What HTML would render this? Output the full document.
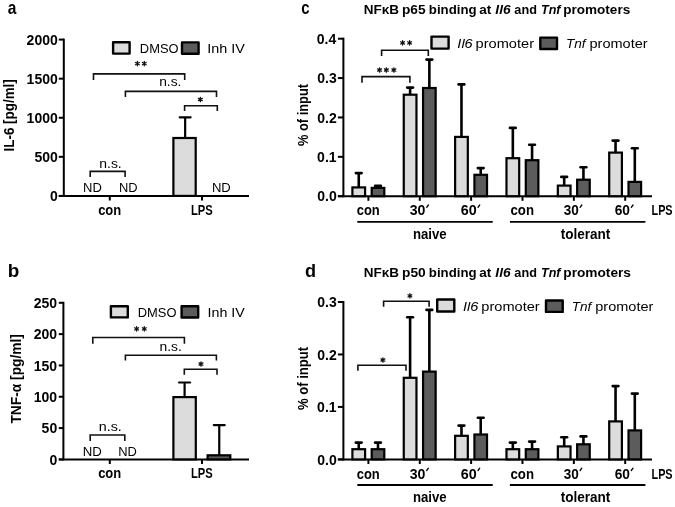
<!DOCTYPE html>
<html><head><meta charset="utf-8"><style>
html,body{margin:0;padding:0;background:#fff;}
svg{display:block;will-change:transform;}
text{font-family:"Liberation Sans", sans-serif;}
</style></head><body>
<svg width="675" height="507" viewBox="0 0 675 507">
<rect width="675" height="507" fill="#fff"/>
<text x="7.68" y="14.20" font-size="18.5" font-weight="bold" textLength="8.63" lengthAdjust="spacingAndGlyphs">a</text>
<line x1="63.80" y1="38.60" x2="63.80" y2="196.90" stroke="#000" stroke-width="2" stroke-linecap="butt"/>
<line x1="58.80" y1="195.90" x2="63.80" y2="195.90" stroke="#000" stroke-width="2" stroke-linecap="butt"/>
<text x="50.00" y="201.10" font-size="14.0" font-weight="bold">0</text>
<line x1="58.80" y1="156.82" x2="63.80" y2="156.82" stroke="#000" stroke-width="2" stroke-linecap="butt"/>
<text x="34.40" y="162.02" font-size="14.0" font-weight="bold">500</text>
<line x1="58.80" y1="117.75" x2="63.80" y2="117.75" stroke="#000" stroke-width="2" stroke-linecap="butt"/>
<text x="26.60" y="122.95" font-size="14.0" font-weight="bold">1000</text>
<line x1="58.80" y1="78.67" x2="63.80" y2="78.67" stroke="#000" stroke-width="2" stroke-linecap="butt"/>
<text x="26.60" y="83.88" font-size="14.0" font-weight="bold">1500</text>
<line x1="58.80" y1="39.60" x2="63.80" y2="39.60" stroke="#000" stroke-width="2" stroke-linecap="butt"/>
<text x="26.60" y="44.80" font-size="14.0" font-weight="bold">2000</text>
<line x1="58.80" y1="195.90" x2="249.00" y2="195.90" stroke="#000" stroke-width="2" stroke-linecap="butt"/>
<line x1="109.80" y1="195.90" x2="109.80" y2="200.50" stroke="#000" stroke-width="2" stroke-linecap="butt"/>
<line x1="202.00" y1="195.90" x2="202.00" y2="200.50" stroke="#000" stroke-width="2" stroke-linecap="butt"/>
<text x="98.14" y="214.80" font-size="14.0" font-weight="bold" textLength="23.08" lengthAdjust="spacingAndGlyphs">con</text>
<text x="190.98" y="214.80" font-size="14.0" font-weight="bold" textLength="21.74" lengthAdjust="spacingAndGlyphs">LPS</text>
<text x="14.10" y="151.47" font-size="13.9" font-weight="bold" textLength="72.24" lengthAdjust="spacingAndGlyphs" transform="rotate(-90 14.10 151.47)">IL-6 [pg/ml]</text>
<rect x="113.10" y="42.30" width="16.50" height="11.30" fill="#dcdcdc" stroke="#000" stroke-width="2.4" stroke-linejoin="round"/>
<text x="139.86" y="53.00" font-size="13.6" textLength="38.71" lengthAdjust="spacingAndGlyphs">DMSO</text>
<rect x="182.00" y="42.40" width="16.60" height="11.30" fill="#5c5c5c" stroke="#000" stroke-width="2.4" stroke-linejoin="round"/>
<text x="207.32" y="53.00" font-size="13.6" textLength="37.62" lengthAdjust="spacingAndGlyphs">Inh IV</text>
<path d="M93.50 80.00V73.90H184.70V80.00" fill="none" stroke="#111" stroke-width="1.6"/>
<path d="M125.40 96.90V91.40H216.50V96.90" fill="none" stroke="#111" stroke-width="1.6"/>
<path d="M184.60 111.10V105.70H217.30V111.10" fill="none" stroke="#111" stroke-width="1.6"/>
<path d="M90.20 177.10V171.40H125.10V177.10" fill="none" stroke="#111" stroke-width="1.6"/>
<path d="M137.40 61.40V65.80M135.49 62.50L139.31 64.70M135.49 64.70L139.31 62.50" stroke="#111" stroke-width="1.3" stroke-linecap="round" fill="none"/>
<path d="M144.30 61.40V65.80M142.39 62.50L146.21 64.70M142.39 64.70L146.21 62.50" stroke="#111" stroke-width="1.3" stroke-linecap="round" fill="none"/>
<path d="M200.40 97.30V101.70M198.49 98.40L202.31 100.60M198.49 100.60L202.31 98.40" stroke="#111" stroke-width="1.3" stroke-linecap="round" fill="none"/>
<text x="159.19" y="86.30" font-size="13.6" textLength="22.25" lengthAdjust="spacingAndGlyphs">n.s.</text>
<text x="99.28" y="168.30" font-size="13.6" textLength="22.48" lengthAdjust="spacingAndGlyphs">n.s.</text>
<text x="83.03" y="192.40" font-size="13.3" textLength="18.77" lengthAdjust="spacingAndGlyphs">ND</text>
<text x="118.93" y="192.40" font-size="13.3" textLength="18.66" lengthAdjust="spacingAndGlyphs">ND</text>
<text x="211.92" y="192.40" font-size="13.3" textLength="18.88" lengthAdjust="spacingAndGlyphs">ND</text>
<rect x="173.40" y="138.00" width="22.30" height="57.90" fill="#dcdcdc" stroke="#000" stroke-width="2.2"/>
<line x1="185.15" y1="117.30" x2="185.15" y2="137.90" stroke="#000" stroke-width="2.2" stroke-linecap="butt"/>
<line x1="179.70" y1="117.30" x2="190.60" y2="117.30" stroke="#000" stroke-width="2.2" stroke-linecap="round"/>
<text x="7.87" y="277.20" font-size="18.5" font-weight="bold" textLength="11.54" lengthAdjust="spacingAndGlyphs">b</text>
<line x1="63.40" y1="301.80" x2="63.40" y2="460.40" stroke="#000" stroke-width="2" stroke-linecap="butt"/>
<line x1="58.80" y1="459.40" x2="63.40" y2="459.40" stroke="#000" stroke-width="2" stroke-linecap="butt"/>
<text x="49.40" y="464.60" font-size="14.0" font-weight="bold">0</text>
<line x1="58.80" y1="428.08" x2="63.40" y2="428.08" stroke="#000" stroke-width="2" stroke-linecap="butt"/>
<text x="41.60" y="433.28" font-size="14.0" font-weight="bold">50</text>
<line x1="58.80" y1="396.76" x2="63.40" y2="396.76" stroke="#000" stroke-width="2" stroke-linecap="butt"/>
<text x="33.80" y="401.96" font-size="14.0" font-weight="bold">100</text>
<line x1="58.80" y1="365.44" x2="63.40" y2="365.44" stroke="#000" stroke-width="2" stroke-linecap="butt"/>
<text x="33.80" y="370.64" font-size="14.0" font-weight="bold">150</text>
<line x1="58.80" y1="334.12" x2="63.40" y2="334.12" stroke="#000" stroke-width="2" stroke-linecap="butt"/>
<text x="33.80" y="339.32" font-size="14.0" font-weight="bold">200</text>
<line x1="58.80" y1="302.80" x2="63.40" y2="302.80" stroke="#000" stroke-width="2" stroke-linecap="butt"/>
<text x="33.80" y="308.00" font-size="14.0" font-weight="bold">250</text>
<line x1="58.80" y1="459.40" x2="249.00" y2="459.40" stroke="#000" stroke-width="2" stroke-linecap="butt"/>
<line x1="109.80" y1="459.40" x2="109.80" y2="464.00" stroke="#000" stroke-width="2" stroke-linecap="butt"/>
<line x1="202.00" y1="459.40" x2="202.00" y2="464.00" stroke="#000" stroke-width="2" stroke-linecap="butt"/>
<text x="98.14" y="478.30" font-size="14.0" font-weight="bold" textLength="23.08" lengthAdjust="spacingAndGlyphs">con</text>
<text x="190.98" y="478.30" font-size="14.0" font-weight="bold" textLength="21.74" lengthAdjust="spacingAndGlyphs">LPS</text>
<text x="21.50" y="423.60" font-size="13.9" font-weight="bold" textLength="89.57" lengthAdjust="spacingAndGlyphs" transform="rotate(-90 21.50 423.60)">TNF-α [pg/ml]</text>
<rect x="110.90" y="306.20" width="16.90" height="11.20" fill="#dcdcdc" stroke="#000" stroke-width="2.4" stroke-linejoin="round"/>
<text x="137.76" y="316.70" font-size="13.6" textLength="38.71" lengthAdjust="spacingAndGlyphs">DMSO</text>
<rect x="181.60" y="306.30" width="16.60" height="11.20" fill="#5c5c5c" stroke="#000" stroke-width="2.4" stroke-linejoin="round"/>
<text x="207.54" y="316.70" font-size="13.6" textLength="37.31" lengthAdjust="spacingAndGlyphs">Inh IV</text>
<path d="M92.80 343.80V337.50H184.40V343.80" fill="none" stroke="#111" stroke-width="1.6"/>
<path d="M125.40 360.50V355.20H216.40V360.50" fill="none" stroke="#111" stroke-width="1.6"/>
<path d="M184.30 374.80V369.20H217.00V374.80" fill="none" stroke="#111" stroke-width="1.6"/>
<path d="M90.20 440.90V435.00H124.80V440.90" fill="none" stroke="#111" stroke-width="1.6"/>
<path d="M136.60 326.70V331.10M134.69 327.80L138.51 330.00M134.69 330.00L138.51 327.80" stroke="#111" stroke-width="1.3" stroke-linecap="round" fill="none"/>
<path d="M144.30 326.70V331.10M142.39 327.80L146.21 330.00M142.39 330.00L146.21 327.80" stroke="#111" stroke-width="1.3" stroke-linecap="round" fill="none"/>
<path d="M201.00 361.80V366.20M199.09 362.90L202.91 365.10M199.09 365.10L202.91 362.90" stroke="#111" stroke-width="1.3" stroke-linecap="round" fill="none"/>
<text x="159.48" y="350.70" font-size="13.6" textLength="22.36" lengthAdjust="spacingAndGlyphs">n.s.</text>
<text x="98.75" y="430.80" font-size="13.6" textLength="23.03" lengthAdjust="spacingAndGlyphs">n.s.</text>
<text x="82.71" y="455.90" font-size="13.3" textLength="19.10" lengthAdjust="spacingAndGlyphs">ND</text>
<text x="118.23" y="455.90" font-size="13.3" textLength="18.66" lengthAdjust="spacingAndGlyphs">ND</text>
<rect x="173.40" y="397.10" width="22.40" height="62.30" fill="#dcdcdc" stroke="#000" stroke-width="2.2"/>
<line x1="184.60" y1="382.50" x2="184.60" y2="397.00" stroke="#000" stroke-width="2.2" stroke-linecap="butt"/>
<line x1="179.05" y1="382.50" x2="190.15" y2="382.50" stroke="#000" stroke-width="2.2" stroke-linecap="round"/>
<rect x="207.60" y="455.30" width="22.70" height="4.10" fill="#5c5c5c" stroke="#000" stroke-width="2.2"/>
<line x1="219.25" y1="425.10" x2="219.25" y2="455.20" stroke="#000" stroke-width="2.2" stroke-linecap="butt"/>
<line x1="213.80" y1="425.10" x2="224.70" y2="425.10" stroke="#000" stroke-width="2.2" stroke-linecap="round"/>
<text x="301.23" y="14.30" font-size="18.5" font-weight="bold" textLength="8.35" lengthAdjust="spacingAndGlyphs">c</text>
<text x="363.82" y="13.70" font-size="12.3" font-weight="bold" textLength="35.27" lengthAdjust="spacingAndGlyphs">NFκB</text>
<text x="402.01" y="13.70" font-size="12.3" font-weight="bold" textLength="23.63" lengthAdjust="spacingAndGlyphs">p65</text>
<text x="428.84" y="13.70" font-size="12.3" font-weight="bold" textLength="47.72" lengthAdjust="spacingAndGlyphs">binding</text>
<text x="479.36" y="13.70" font-size="12.3" font-weight="bold" textLength="11.99" lengthAdjust="spacingAndGlyphs">at</text>
<text x="495.38" y="13.70" font-size="12.3" font-weight="bold" textLength="15.20" lengthAdjust="spacingAndGlyphs"><tspan font-style="italic">Il6</tspan></text>
<text x="514.39" y="13.70" font-size="12.3" font-weight="bold" textLength="22.51" lengthAdjust="spacingAndGlyphs">and</text>
<text x="540.98" y="13.70" font-size="12.3" font-weight="bold" textLength="19.52" lengthAdjust="spacingAndGlyphs"><tspan font-style="italic">Tnf</tspan></text>
<text x="563.32" y="13.70" font-size="12.3" font-weight="bold" textLength="66.86" lengthAdjust="spacingAndGlyphs">promoters</text>
<line x1="343.40" y1="37.70" x2="343.40" y2="197.20" stroke="#000" stroke-width="2" stroke-linecap="butt"/>
<line x1="337.90" y1="196.20" x2="343.40" y2="196.20" stroke="#000" stroke-width="2" stroke-linecap="butt"/>
<text x="317.30" y="201.40" font-size="14.0" font-weight="bold">0.0</text>
<line x1="337.90" y1="156.82" x2="343.40" y2="156.82" stroke="#000" stroke-width="2" stroke-linecap="butt"/>
<text x="317.10" y="162.02" font-size="14.0" font-weight="bold">0.1</text>
<line x1="337.90" y1="117.45" x2="343.40" y2="117.45" stroke="#000" stroke-width="2" stroke-linecap="butt"/>
<text x="317.30" y="122.65" font-size="14.0" font-weight="bold">0.2</text>
<line x1="337.90" y1="78.07" x2="343.40" y2="78.07" stroke="#000" stroke-width="2" stroke-linecap="butt"/>
<text x="317.30" y="83.27" font-size="14.0" font-weight="bold">0.3</text>
<line x1="337.90" y1="38.70" x2="343.40" y2="38.70" stroke="#000" stroke-width="2" stroke-linecap="butt"/>
<text x="316.80" y="43.90" font-size="14.0" font-weight="bold">0.4</text>
<line x1="337.90" y1="196.20" x2="652.00" y2="196.20" stroke="#000" stroke-width="2" stroke-linecap="butt"/>
<text x="308.10" y="146.08" font-size="13.8" font-weight="bold" textLength="62.15" lengthAdjust="spacingAndGlyphs" transform="rotate(-90 308.10 146.08)">% of input</text>
<line x1="368.40" y1="196.20" x2="368.40" y2="200.80" stroke="#000" stroke-width="2" stroke-linecap="butt"/>
<rect x="352.40" y="187.40" width="12.70" height="8.80" fill="#dcdcdc" stroke="#000" stroke-width="2.2"/>
<line x1="358.75" y1="173.10" x2="358.75" y2="187.30" stroke="#000" stroke-width="2.6" stroke-linecap="butt"/>
<line x1="355.85" y1="173.10" x2="361.65" y2="173.10" stroke="#000" stroke-width="2.6" stroke-linecap="round"/>
<rect x="371.70" y="187.90" width="12.60" height="8.30" fill="#5c5c5c" stroke="#000" stroke-width="2.2"/>
<line x1="378.00" y1="185.90" x2="378.00" y2="187.80" stroke="#000" stroke-width="2.6" stroke-linecap="butt"/>
<line x1="375.10" y1="185.90" x2="380.90" y2="185.90" stroke="#000" stroke-width="2.6" stroke-linecap="round"/>
<line x1="419.76" y1="196.20" x2="419.76" y2="200.80" stroke="#000" stroke-width="2" stroke-linecap="butt"/>
<rect x="403.76" y="94.70" width="12.70" height="101.50" fill="#dcdcdc" stroke="#000" stroke-width="2.2"/>
<line x1="410.11" y1="87.60" x2="410.11" y2="94.60" stroke="#000" stroke-width="2.6" stroke-linecap="butt"/>
<line x1="407.21" y1="87.60" x2="413.01" y2="87.60" stroke="#000" stroke-width="2.6" stroke-linecap="round"/>
<rect x="423.06" y="88.00" width="12.60" height="108.20" fill="#5c5c5c" stroke="#000" stroke-width="2.2"/>
<line x1="429.36" y1="59.60" x2="429.36" y2="87.90" stroke="#000" stroke-width="2.6" stroke-linecap="butt"/>
<line x1="426.46" y1="59.60" x2="432.26" y2="59.60" stroke="#000" stroke-width="2.6" stroke-linecap="round"/>
<line x1="471.12" y1="196.20" x2="471.12" y2="200.80" stroke="#000" stroke-width="2" stroke-linecap="butt"/>
<rect x="455.12" y="136.90" width="12.70" height="59.30" fill="#dcdcdc" stroke="#000" stroke-width="2.2"/>
<line x1="461.47" y1="84.40" x2="461.47" y2="136.80" stroke="#000" stroke-width="2.6" stroke-linecap="butt"/>
<line x1="458.57" y1="84.40" x2="464.37" y2="84.40" stroke="#000" stroke-width="2.6" stroke-linecap="round"/>
<rect x="474.42" y="174.80" width="12.60" height="21.40" fill="#5c5c5c" stroke="#000" stroke-width="2.2"/>
<line x1="480.72" y1="168.10" x2="480.72" y2="174.70" stroke="#000" stroke-width="2.6" stroke-linecap="butt"/>
<line x1="477.82" y1="168.10" x2="483.62" y2="168.10" stroke="#000" stroke-width="2.6" stroke-linecap="round"/>
<line x1="522.48" y1="196.20" x2="522.48" y2="200.80" stroke="#000" stroke-width="2" stroke-linecap="butt"/>
<rect x="506.48" y="158.20" width="12.70" height="38.00" fill="#dcdcdc" stroke="#000" stroke-width="2.2"/>
<line x1="512.83" y1="127.90" x2="512.83" y2="158.10" stroke="#000" stroke-width="2.6" stroke-linecap="butt"/>
<line x1="509.93" y1="127.90" x2="515.73" y2="127.90" stroke="#000" stroke-width="2.6" stroke-linecap="round"/>
<rect x="525.78" y="160.20" width="12.60" height="36.00" fill="#5c5c5c" stroke="#000" stroke-width="2.2"/>
<line x1="532.08" y1="144.80" x2="532.08" y2="160.10" stroke="#000" stroke-width="2.6" stroke-linecap="butt"/>
<line x1="529.18" y1="144.80" x2="534.98" y2="144.80" stroke="#000" stroke-width="2.6" stroke-linecap="round"/>
<line x1="573.84" y1="196.20" x2="573.84" y2="200.80" stroke="#000" stroke-width="2" stroke-linecap="butt"/>
<rect x="557.84" y="185.60" width="12.70" height="10.60" fill="#dcdcdc" stroke="#000" stroke-width="2.2"/>
<line x1="564.19" y1="176.90" x2="564.19" y2="185.50" stroke="#000" stroke-width="2.6" stroke-linecap="butt"/>
<line x1="561.29" y1="176.90" x2="567.09" y2="176.90" stroke="#000" stroke-width="2.6" stroke-linecap="round"/>
<rect x="577.14" y="179.70" width="12.60" height="16.50" fill="#5c5c5c" stroke="#000" stroke-width="2.2"/>
<line x1="583.44" y1="167.30" x2="583.44" y2="179.60" stroke="#000" stroke-width="2.6" stroke-linecap="butt"/>
<line x1="580.54" y1="167.30" x2="586.34" y2="167.30" stroke="#000" stroke-width="2.6" stroke-linecap="round"/>
<line x1="625.20" y1="196.20" x2="625.20" y2="200.80" stroke="#000" stroke-width="2" stroke-linecap="butt"/>
<rect x="609.20" y="152.60" width="12.70" height="43.60" fill="#dcdcdc" stroke="#000" stroke-width="2.2"/>
<line x1="615.55" y1="140.60" x2="615.55" y2="152.50" stroke="#000" stroke-width="2.6" stroke-linecap="butt"/>
<line x1="612.65" y1="140.60" x2="618.45" y2="140.60" stroke="#000" stroke-width="2.6" stroke-linecap="round"/>
<rect x="628.50" y="181.90" width="12.60" height="14.30" fill="#5c5c5c" stroke="#000" stroke-width="2.2"/>
<line x1="634.80" y1="148.30" x2="634.80" y2="181.80" stroke="#000" stroke-width="2.6" stroke-linecap="butt"/>
<line x1="631.90" y1="148.30" x2="637.70" y2="148.30" stroke="#000" stroke-width="2.6" stroke-linecap="round"/>
<text x="356.75" y="215.40" font-size="14.0" font-weight="bold" textLength="22.98" lengthAdjust="spacingAndGlyphs">con</text>
<text x="409.70" y="215.40" font-size="14.0" font-weight="bold" textLength="15.68" lengthAdjust="spacingAndGlyphs">30</text>
<line x1="428.40" y1="205.00" x2="426.70" y2="207.30" stroke="#000" stroke-width="1.3" stroke-linecap="round"/>
<text x="460.79" y="215.40" font-size="14.0" font-weight="bold" textLength="15.90" lengthAdjust="spacingAndGlyphs">60</text>
<line x1="479.70" y1="205.00" x2="478.00" y2="207.30" stroke="#000" stroke-width="1.3" stroke-linecap="round"/>
<text x="510.53" y="215.40" font-size="14.0" font-weight="bold" textLength="23.51" lengthAdjust="spacingAndGlyphs">con</text>
<text x="563.71" y="215.40" font-size="14.0" font-weight="bold" textLength="15.04" lengthAdjust="spacingAndGlyphs">30</text>
<line x1="581.80" y1="205.00" x2="580.10" y2="207.30" stroke="#000" stroke-width="1.3" stroke-linecap="round"/>
<text x="614.71" y="215.40" font-size="14.0" font-weight="bold" textLength="15.25" lengthAdjust="spacingAndGlyphs">60</text>
<line x1="633.00" y1="205.00" x2="631.30" y2="207.30" stroke="#000" stroke-width="1.3" stroke-linecap="round"/>
<text x="651.50" y="215.40" font-size="14.0" font-weight="bold" textLength="21.11" lengthAdjust="spacingAndGlyphs">LPS</text>
<line x1="357.30" y1="221.80" x2="492.70" y2="221.80" stroke="#000" stroke-width="1.8" stroke-linecap="butt"/>
<line x1="509.90" y1="221.80" x2="645.40" y2="221.80" stroke="#000" stroke-width="1.8" stroke-linecap="butt"/>
<text x="412.95" y="238.90" font-size="14.0" font-weight="bold" textLength="33.72" lengthAdjust="spacingAndGlyphs">naive</text>
<text x="560.71" y="238.90" font-size="14.0" font-weight="bold" textLength="49.63" lengthAdjust="spacingAndGlyphs">tolerant</text>
<rect x="431.50" y="36.60" width="17.10" height="12.00" fill="#dcdcdc" stroke="#000" stroke-width="2.4" stroke-linejoin="round"/>
<text x="457.37" y="47.90" font-size="13.6" textLength="15.30" lengthAdjust="spacingAndGlyphs"><tspan font-style="italic">Il6</tspan></text>
<text x="475.63" y="47.90" font-size="13.6" textLength="58.40" lengthAdjust="spacingAndGlyphs">promoter</text>
<rect x="540.30" y="37.60" width="16.70" height="11.40" fill="#5c5c5c" stroke="#000" stroke-width="2.4" stroke-linejoin="round"/>
<text x="566.00" y="47.90" font-size="13.6" textLength="19.65" lengthAdjust="spacingAndGlyphs"><tspan font-style="italic">Tnf</tspan></text>
<text x="589.54" y="47.90" font-size="13.6" textLength="58.10" lengthAdjust="spacingAndGlyphs">promoter</text>
<path d="M381.60 56.10V50.20H428.30V56.10" fill="none" stroke="#111" stroke-width="1.6"/>
<path d="M362.00 82.80V76.60H409.90V82.80" fill="none" stroke="#111" stroke-width="1.6"/>
<path d="M402.60 40.70V45.10M400.69 41.80L404.51 44.00M400.69 44.00L404.51 41.80" stroke="#111" stroke-width="1.3" stroke-linecap="round" fill="none"/>
<path d="M409.60 40.70V45.10M407.69 41.80L411.51 44.00M407.69 44.00L411.51 41.80" stroke="#111" stroke-width="1.3" stroke-linecap="round" fill="none"/>
<path d="M379.60 67.80V72.20M377.69 68.90L381.51 71.10M377.69 71.10L381.51 68.90" stroke="#111" stroke-width="1.3" stroke-linecap="round" fill="none"/>
<path d="M386.40 67.80V72.20M384.49 68.90L388.31 71.10M384.49 71.10L388.31 68.90" stroke="#111" stroke-width="1.3" stroke-linecap="round" fill="none"/>
<path d="M393.90 67.80V72.20M391.99 68.90L395.81 71.10M391.99 71.10L395.81 68.90" stroke="#111" stroke-width="1.3" stroke-linecap="round" fill="none"/>
<text x="305.12" y="277.20" font-size="18.5" font-weight="bold" textLength="11.06" lengthAdjust="spacingAndGlyphs">d</text>
<text x="363.82" y="277.00" font-size="12.3" font-weight="bold" textLength="35.27" lengthAdjust="spacingAndGlyphs">NFκB</text>
<text x="402.00" y="277.00" font-size="12.3" font-weight="bold" textLength="23.75" lengthAdjust="spacingAndGlyphs">p50</text>
<text x="428.84" y="277.00" font-size="12.3" font-weight="bold" textLength="47.72" lengthAdjust="spacingAndGlyphs">binding</text>
<text x="479.36" y="277.00" font-size="12.3" font-weight="bold" textLength="11.99" lengthAdjust="spacingAndGlyphs">at</text>
<text x="495.38" y="277.00" font-size="12.3" font-weight="bold" textLength="15.20" lengthAdjust="spacingAndGlyphs"><tspan font-style="italic">Il6</tspan></text>
<text x="514.39" y="277.00" font-size="12.3" font-weight="bold" textLength="22.51" lengthAdjust="spacingAndGlyphs">and</text>
<text x="540.98" y="277.00" font-size="12.3" font-weight="bold" textLength="19.52" lengthAdjust="spacingAndGlyphs"><tspan font-style="italic">Tnf</tspan></text>
<text x="563.31" y="277.00" font-size="12.3" font-weight="bold" textLength="67.68" lengthAdjust="spacingAndGlyphs">promoters</text>
<line x1="343.40" y1="301.00" x2="343.40" y2="460.40" stroke="#000" stroke-width="2" stroke-linecap="butt"/>
<line x1="337.90" y1="459.40" x2="343.40" y2="459.40" stroke="#000" stroke-width="2" stroke-linecap="butt"/>
<text x="317.30" y="464.60" font-size="14.0" font-weight="bold">0.0</text>
<line x1="337.90" y1="406.93" x2="343.40" y2="406.93" stroke="#000" stroke-width="2" stroke-linecap="butt"/>
<text x="317.10" y="412.13" font-size="14.0" font-weight="bold">0.1</text>
<line x1="337.90" y1="354.47" x2="343.40" y2="354.47" stroke="#000" stroke-width="2" stroke-linecap="butt"/>
<text x="317.30" y="359.67" font-size="14.0" font-weight="bold">0.2</text>
<line x1="337.90" y1="302.00" x2="343.40" y2="302.00" stroke="#000" stroke-width="2" stroke-linecap="butt"/>
<text x="317.30" y="307.20" font-size="14.0" font-weight="bold">0.3</text>
<line x1="337.90" y1="459.40" x2="652.00" y2="459.40" stroke="#000" stroke-width="2" stroke-linecap="butt"/>
<text x="308.10" y="409.98" font-size="13.8" font-weight="bold" textLength="63.16" lengthAdjust="spacingAndGlyphs" transform="rotate(-90 308.10 409.98)">% of input</text>
<line x1="368.40" y1="459.40" x2="368.40" y2="464.00" stroke="#000" stroke-width="2" stroke-linecap="butt"/>
<rect x="352.40" y="449.20" width="12.70" height="10.20" fill="#dcdcdc" stroke="#000" stroke-width="2.2"/>
<line x1="358.75" y1="442.60" x2="358.75" y2="449.10" stroke="#000" stroke-width="2.6" stroke-linecap="butt"/>
<line x1="355.85" y1="442.60" x2="361.65" y2="442.60" stroke="#000" stroke-width="2.6" stroke-linecap="round"/>
<rect x="371.70" y="449.20" width="12.60" height="10.20" fill="#5c5c5c" stroke="#000" stroke-width="2.2"/>
<line x1="378.00" y1="442.60" x2="378.00" y2="449.10" stroke="#000" stroke-width="2.6" stroke-linecap="butt"/>
<line x1="375.10" y1="442.60" x2="380.90" y2="442.60" stroke="#000" stroke-width="2.6" stroke-linecap="round"/>
<line x1="419.76" y1="459.40" x2="419.76" y2="464.00" stroke="#000" stroke-width="2" stroke-linecap="butt"/>
<rect x="403.76" y="377.80" width="12.70" height="81.60" fill="#dcdcdc" stroke="#000" stroke-width="2.2"/>
<line x1="410.11" y1="317.30" x2="410.11" y2="377.70" stroke="#000" stroke-width="2.6" stroke-linecap="butt"/>
<line x1="407.21" y1="317.30" x2="413.01" y2="317.30" stroke="#000" stroke-width="2.6" stroke-linecap="round"/>
<rect x="423.06" y="371.60" width="12.60" height="87.80" fill="#5c5c5c" stroke="#000" stroke-width="2.2"/>
<line x1="429.36" y1="309.90" x2="429.36" y2="371.50" stroke="#000" stroke-width="2.6" stroke-linecap="butt"/>
<line x1="426.46" y1="309.90" x2="432.26" y2="309.90" stroke="#000" stroke-width="2.6" stroke-linecap="round"/>
<line x1="471.12" y1="459.40" x2="471.12" y2="464.00" stroke="#000" stroke-width="2" stroke-linecap="butt"/>
<rect x="455.12" y="435.80" width="12.70" height="23.60" fill="#dcdcdc" stroke="#000" stroke-width="2.2"/>
<line x1="461.47" y1="425.60" x2="461.47" y2="435.70" stroke="#000" stroke-width="2.6" stroke-linecap="butt"/>
<line x1="458.57" y1="425.60" x2="464.37" y2="425.60" stroke="#000" stroke-width="2.6" stroke-linecap="round"/>
<rect x="474.42" y="434.50" width="12.60" height="24.90" fill="#5c5c5c" stroke="#000" stroke-width="2.2"/>
<line x1="480.72" y1="417.70" x2="480.72" y2="434.40" stroke="#000" stroke-width="2.6" stroke-linecap="butt"/>
<line x1="477.82" y1="417.70" x2="483.62" y2="417.70" stroke="#000" stroke-width="2.6" stroke-linecap="round"/>
<line x1="522.48" y1="459.40" x2="522.48" y2="464.00" stroke="#000" stroke-width="2" stroke-linecap="butt"/>
<rect x="506.48" y="449.20" width="12.70" height="10.20" fill="#dcdcdc" stroke="#000" stroke-width="2.2"/>
<line x1="512.83" y1="442.60" x2="512.83" y2="449.10" stroke="#000" stroke-width="2.6" stroke-linecap="butt"/>
<line x1="509.93" y1="442.60" x2="515.73" y2="442.60" stroke="#000" stroke-width="2.6" stroke-linecap="round"/>
<rect x="525.78" y="449.20" width="12.60" height="10.20" fill="#5c5c5c" stroke="#000" stroke-width="2.2"/>
<line x1="532.08" y1="441.60" x2="532.08" y2="449.10" stroke="#000" stroke-width="2.6" stroke-linecap="butt"/>
<line x1="529.18" y1="441.60" x2="534.98" y2="441.60" stroke="#000" stroke-width="2.6" stroke-linecap="round"/>
<line x1="573.84" y1="459.40" x2="573.84" y2="464.00" stroke="#000" stroke-width="2" stroke-linecap="butt"/>
<rect x="557.84" y="446.40" width="12.70" height="13.00" fill="#dcdcdc" stroke="#000" stroke-width="2.2"/>
<line x1="564.19" y1="437.30" x2="564.19" y2="446.30" stroke="#000" stroke-width="2.6" stroke-linecap="butt"/>
<line x1="561.29" y1="437.30" x2="567.09" y2="437.30" stroke="#000" stroke-width="2.6" stroke-linecap="round"/>
<rect x="577.14" y="444.30" width="12.60" height="15.10" fill="#5c5c5c" stroke="#000" stroke-width="2.2"/>
<line x1="583.44" y1="436.40" x2="583.44" y2="444.20" stroke="#000" stroke-width="2.6" stroke-linecap="butt"/>
<line x1="580.54" y1="436.40" x2="586.34" y2="436.40" stroke="#000" stroke-width="2.6" stroke-linecap="round"/>
<line x1="625.20" y1="459.40" x2="625.20" y2="464.00" stroke="#000" stroke-width="2" stroke-linecap="butt"/>
<rect x="609.20" y="421.40" width="12.70" height="38.00" fill="#dcdcdc" stroke="#000" stroke-width="2.2"/>
<line x1="615.55" y1="386.10" x2="615.55" y2="421.30" stroke="#000" stroke-width="2.6" stroke-linecap="butt"/>
<line x1="612.65" y1="386.10" x2="618.45" y2="386.10" stroke="#000" stroke-width="2.6" stroke-linecap="round"/>
<rect x="628.50" y="430.40" width="12.60" height="29.00" fill="#5c5c5c" stroke="#000" stroke-width="2.2"/>
<line x1="634.80" y1="393.60" x2="634.80" y2="430.30" stroke="#000" stroke-width="2.6" stroke-linecap="butt"/>
<line x1="631.90" y1="393.60" x2="637.70" y2="393.60" stroke="#000" stroke-width="2.6" stroke-linecap="round"/>
<text x="356.75" y="478.60" font-size="14.0" font-weight="bold" textLength="22.98" lengthAdjust="spacingAndGlyphs">con</text>
<text x="409.70" y="478.60" font-size="14.0" font-weight="bold" textLength="15.68" lengthAdjust="spacingAndGlyphs">30</text>
<line x1="428.40" y1="468.20" x2="426.70" y2="470.50" stroke="#000" stroke-width="1.3" stroke-linecap="round"/>
<text x="460.79" y="478.60" font-size="14.0" font-weight="bold" textLength="15.90" lengthAdjust="spacingAndGlyphs">60</text>
<line x1="479.70" y1="468.20" x2="478.00" y2="470.50" stroke="#000" stroke-width="1.3" stroke-linecap="round"/>
<text x="510.53" y="478.60" font-size="14.0" font-weight="bold" textLength="23.51" lengthAdjust="spacingAndGlyphs">con</text>
<text x="563.71" y="478.60" font-size="14.0" font-weight="bold" textLength="15.04" lengthAdjust="spacingAndGlyphs">30</text>
<line x1="581.80" y1="468.20" x2="580.10" y2="470.50" stroke="#000" stroke-width="1.3" stroke-linecap="round"/>
<text x="614.71" y="478.60" font-size="14.0" font-weight="bold" textLength="15.25" lengthAdjust="spacingAndGlyphs">60</text>
<line x1="633.00" y1="468.20" x2="631.30" y2="470.50" stroke="#000" stroke-width="1.3" stroke-linecap="round"/>
<text x="651.50" y="478.60" font-size="14.0" font-weight="bold" textLength="21.11" lengthAdjust="spacingAndGlyphs">LPS</text>
<line x1="357.30" y1="485.00" x2="492.70" y2="485.00" stroke="#000" stroke-width="1.8" stroke-linecap="butt"/>
<line x1="509.90" y1="485.00" x2="645.40" y2="485.00" stroke="#000" stroke-width="1.8" stroke-linecap="butt"/>
<text x="412.95" y="502.10" font-size="14.0" font-weight="bold" textLength="33.72" lengthAdjust="spacingAndGlyphs">naive</text>
<text x="560.71" y="502.10" font-size="14.0" font-weight="bold" textLength="49.63" lengthAdjust="spacingAndGlyphs">tolerant</text>
<rect x="437.20" y="299.50" width="17.10" height="12.00" fill="#dcdcdc" stroke="#000" stroke-width="2.4" stroke-linejoin="round"/>
<text x="463.07" y="310.80" font-size="13.6" textLength="15.30" lengthAdjust="spacingAndGlyphs"><tspan font-style="italic">Il6</tspan></text>
<text x="481.33" y="310.80" font-size="13.6" textLength="58.40" lengthAdjust="spacingAndGlyphs">promoter</text>
<rect x="546.00" y="300.50" width="16.70" height="11.40" fill="#5c5c5c" stroke="#000" stroke-width="2.4" stroke-linejoin="round"/>
<text x="571.70" y="310.80" font-size="13.6" textLength="19.65" lengthAdjust="spacingAndGlyphs"><tspan font-style="italic">Tnf</tspan></text>
<text x="595.24" y="310.80" font-size="13.6" textLength="58.10" lengthAdjust="spacingAndGlyphs">promoter</text>
<path d="M383.60 306.70V301.30H429.10V306.70" fill="none" stroke="#111" stroke-width="1.6"/>
<path d="M357.90 370.80V365.20H406.00V370.80" fill="none" stroke="#111" stroke-width="1.6"/>
<path d="M409.90 293.70V298.10M407.99 294.80L411.81 297.00M407.99 297.00L411.81 294.80" stroke="#111" stroke-width="1.3" stroke-linecap="round" fill="none"/>
<path d="M382.90 357.80V362.20M380.99 358.90L384.81 361.10M380.99 361.10L384.81 358.90" stroke="#111" stroke-width="1.3" stroke-linecap="round" fill="none"/>
</svg></body></html>
